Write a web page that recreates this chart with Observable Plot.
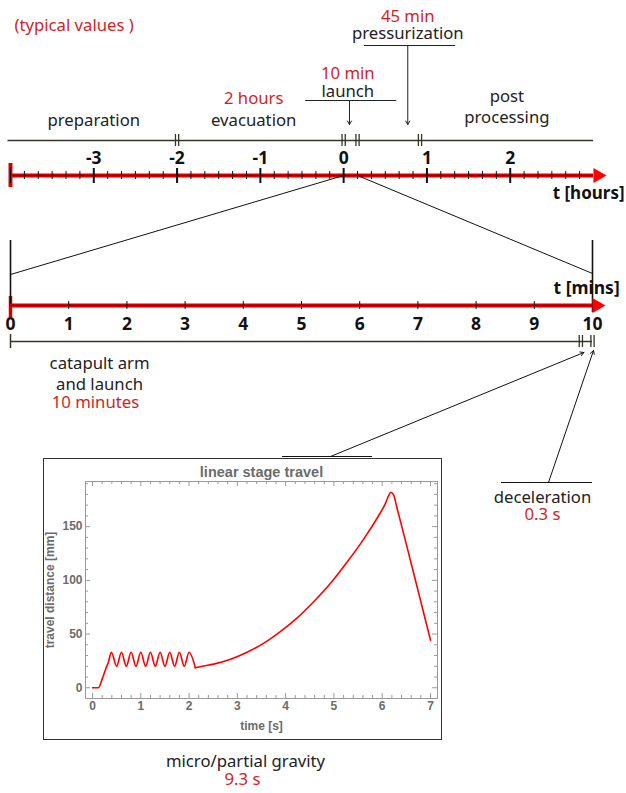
<!DOCTYPE html>
<html><head><meta charset="utf-8">
<script src="https://cdn.jsdelivr.net/npm/d3@7"></script>
<script src="https://cdn.jsdelivr.net/npm/@observablehq/plot@0.6"></script>
<style>
body{margin:0;background:#fff;}
#wrap{position:relative;width:626px;height:793px;overflow:hidden;}
#wrap svg{position:absolute;}
</style></head><body><div id="wrap"></div>
<script>
// ---------- data ----------
const hourTicks = [-3, -2, -1, 0, 1, 2];
const hourPhaseMarks = [-2, 0, 10 / 60, 55 / 60];
const phaseNames = ["preparation", "evacuation", "launch", "pressurization", "post", "processing"];
const phaseX = [-3, -1.08, 0.05, 0.77, 1.96, 1.96];
const phaseRow = [120, 120, 91, 33, 96, 117];
const durNames = ["2 hours", "10 min", "45 min"];
const durX = [-1.08, 0.05, 0.77];
const durRow = [98, 73, 16];
const noteArrowX = [0.07, 0.77];
const noteArrowTop = [100, 45];
const underlineX1 = [-0.456, 0.25];
const underlineX2 = [0.637, 1.345];
const underlineRow = [100, 45];

const minTicks = [0, 1, 2, 3, 4, 5, 6, 7, 8, 9, 10];
const minPhaseMarks = [9.8, 10];
const zoomFromHours = [0, 10 / 60];
const zoomToMins = [0, 10];

// linear stage travel: oscillation phase, then acceleration + deceleration
const oscTime = [0, 0.12, 0.2, 0.27, 0.33, 0.39, 0.5, 0.6, 0.7, 0.8, 0.9, 1.0, 1.1, 1.2, 1.3, 1.4, 1.5, 1.6, 1.7, 1.8, 1.9, 2.0, 2.13];
const oscDist = [0, 0, 8, 17, 24, 33, 20, 33, 20, 33, 20, 33, 20, 33, 20, 33, 20, 33, 20, 33, 20, 33, 18.6];
const accTime = [2.13, 2.3, 2.51, 2.86, 3.2, 3.55, 3.89, 4.24, 4.58, 4.93, 5.27, 5.62, 5.96, 6.06, 6.13, 6.18, 6.23, 6.3, 6.5, 6.75, 7.0];
const accDist = [18.6, 20.3, 22, 26.5, 33, 41.6, 52.3, 65.1, 80.1, 97.3, 116.8, 138.6, 162.7, 171, 178.5, 182, 180, 168.5, 133.5, 89, 44.3];
const insetXTicks = [0, 1, 2, 3, 4, 5, 6, 7];
const insetYTicks = [0, 50, 100, 150];

// ---------- styles ----------
const INK = "#222", RED = "#d11f1f", PHASE = "#34342a", AXRED = "#d40000", HEAD = "#ff0000", BLK = "#111";
const FS = 16.7, FB = 17.5;
const FONT = "background:transparent;overflow:visible;font-family:'Noto Sans',sans-serif;";
const wrap = document.getElementById("wrap");

// ---------- hours timeline ----------
const phases = phaseNames.map((t, i) => ({text: t, x: phaseX[i], y: phaseRow[i]}));
const durs = durNames.map((t, i) => ({text: t, x: durX[i], y: durRow[i]}));
const notes = noteArrowX.map((x, i) => ({x, y1: noteArrowTop[i], y2: 124}));
const unders = underlineRow.map((y, i) => ({y, x1: underlineX1[i], x2: underlineX2[i]}));
const minorHours = d3.range(-24, 18).map(k => k / 6).filter(v => Math.abs(v - Math.round(v)) > 1e-6);

const hoursPlot = Plot.plot({
  width: 626, height: 200, marginLeft: 10, marginRight: 33, marginTop: 0, marginBottom: 0,
  style: FONT,
  x: {domain: [-4, 3], axis: null},
  y: {type: "identity", axis: null},
  marks: [
    Plot.text(["(typical values )"], {frameAnchor: "top-left", dx: 4, dy: 25, textAnchor: "start", lineAnchor: "middle", fill: RED, fontSize: FS}),
    Plot.text(phases, {x: "x", y: "y", text: "text", fill: INK, fontSize: FS}),
    Plot.text(durs, {x: "x", y: "y", text: "text", fill: RED, fontSize: FS}),
    Plot.ruleY(unders, {y: "y", x1: "x1", x2: "x2", stroke: INK, strokeWidth: 1.2}),
    Plot.arrow(notes, {x1: "x", x2: "x", y1: "y1", y2: "y2", stroke: INK, strokeWidth: 1, headLength: 6}),
    Plot.ruleY([140], {x1: -4.03, x2: 3.0, stroke: PHASE, strokeWidth: 1.6}),
    Plot.ruleX(hourPhaseMarks, {x: d => d, y1: 134, y2: 146, dx: -1.6, stroke: PHASE, strokeWidth: 1.3}),
    Plot.ruleX(hourPhaseMarks, {x: d => d, y1: 134, y2: 146, dx: 1.6, stroke: PHASE, strokeWidth: 1.3}),
    Plot.text(hourTicks, {x: d => d, y: 158, text: d => String(d), fontWeight: "bold", fontSize: FB, fill: BLK}),
    Plot.ruleY([175], {x1: -4, x2: 3, stroke: AXRED, strokeWidth: 4}),
    Plot.ruleY([175], {x1: -4, x2: 3, stroke: BLK, strokeWidth: 1}),
    Plot.ruleX(minorHours, {x: d => d, y1: 171, y2: 179, stroke: BLK, strokeWidth: 1}),
    Plot.ruleX(hourTicks, {x: d => d, y1: 168, y2: 183, stroke: BLK, strokeWidth: 2}),
    Plot.ruleX([-4], {x: d => d, y1: 163, y2: 187, stroke: AXRED, strokeWidth: 4}),
    Plot.ruleX([-4], {x: d => d, y1: 167, y2: 183, stroke: BLK, strokeWidth: 1}),
    Plot.dot([3], {x: d => d, y: 175, symbol: "triangle", rotate: 90, r: 5.6, fill: HEAD, stroke: "none", dx: 4.3}),
    Plot.text(["t [hours]"], {x: 2.51, y: 193, textAnchor: "start", fontWeight: "bold", fontSize: 17, fill: BLK})
  ]
});
hoursPlot.style.top = "0px"; hoursPlot.style.left = "0px";

// ---------- minutes timeline ----------
const MINTOP = 230;
const minsPlot = Plot.plot({
  width: 626, height: 200, marginLeft: 10, marginRight: 34, marginTop: 0, marginBottom: 0,
  style: FONT,
  x: {domain: [0, 10], axis: null},
  y: {type: "identity", axis: null},
  marks: [
    Plot.ruleX([0], {x: d => d, y1: 66, y2: 87, stroke: AXRED, strokeWidth: 3.5}),
    Plot.ruleX([0], {x: d => d, y1: 10, y2: 76, stroke: BLK, strokeWidth: 1.6}),
    Plot.ruleX([10], {x: d => d, y1: 10, y2: 82, stroke: BLK, strokeWidth: 1.6}),
    Plot.ruleY([75], {x1: 0, x2: 10, stroke: AXRED, strokeWidth: 4}),
    Plot.ruleY([75], {x1: 0, x2: 10, stroke: BLK, strokeWidth: 1}),
    Plot.ruleX(minTicks.slice(1, -1), {x: d => d, y1: 71, y2: 79, stroke: BLK, strokeWidth: 1}),
    Plot.dot([10], {x: d => d, y: 75, symbol: "triangle", rotate: 90, r: 5.6, fill: HEAD, stroke: "none", dx: 4.3}),
    Plot.text(["t [mins]"], {x: 9.33, y: 58, textAnchor: "start", fontWeight: "bold", fontSize: FB, fill: BLK}),
    Plot.text(minTicks, {x: d => d, y: 94, text: d => String(d), fontWeight: "bold", fontSize: FB, fill: BLK}),
    Plot.ruleY([111], {x1: 0, x2: 10, stroke: PHASE, strokeWidth: 1.6}),
    Plot.ruleX([0], {x: d => d, y1: 104, y2: 118, stroke: PHASE, strokeWidth: 1.5}),
    Plot.ruleX(minPhaseMarks, {x: d => d, y1: 105, y2: 117, dx: -1.6, stroke: PHASE, strokeWidth: 1.3}),
    Plot.ruleX(minPhaseMarks, {x: d => d, y1: 105, y2: 117, dx: 1.6, stroke: PHASE, strokeWidth: 1.3}),
    Plot.text(["catapult arm", "and launch"], {x: 1.53, y: (d, i) => 133 + 21 * i, fill: INK, fontSize: FS}),
    Plot.text(["10 minutes"], {x: 1.46, y: 172, fill: RED, fontSize: FS})
  ]
});
minsPlot.style.top = MINTOP + "px"; minsPlot.style.left = "0px";

// ---------- inset chart ----------
const IW = 399, IH = 282, IL = 42, IR = 5, IT = 23, IB = 42;
const FW = IW - IL - IR, FH = IH - IT - IB;
const GRAY = "#6b6b6b", TICK = "#999";
const minorX = d3.range(0, 36).map(k => k / 5).filter(v => Math.abs(v - Math.round(v)) > 1e-6);
const minorY = d3.range(0, 20).map(k => k * 10).filter(v => v % 50 !== 0);
const osc = oscTime.map((t, i) => ({t, d: oscDist[i]}));
const acc = accTime.map((t, i) => ({t, d: accDist[i]}));
const lab = {fontWeight: "bold", fill: GRAY, lineAnchor: "middle", textAnchor: "middle"};
const insetPlot = Plot.plot({
  width: IW, height: IH, marginLeft: IL, marginRight: IR, marginTop: IT, marginBottom: IB,
  style: "background:#fff;overflow:visible;outline:1.5px solid #333;outline-offset:-1.5px;font-family:'Liberation Sans',Arial,sans-serif;",
  x: {domain: [-0.145, 7.145]},
  y: {domain: [-10, 192]},
  marks: [
    Plot.frame({stroke: TICK}),
    Plot.ruleX(insetXTicks, {x: d => d, insetTop: FH - 5, stroke: TICK}),
    Plot.ruleX(insetXTicks, {x: d => d, insetBottom: FH - 5, stroke: TICK}),
    Plot.ruleX(minorX, {x: d => d, insetTop: FH - 3, stroke: TICK}),
    Plot.ruleX(minorX, {x: d => d, insetBottom: FH - 3, stroke: TICK}),
    Plot.ruleY(insetYTicks, {y: d => d, insetRight: FW - 5, stroke: TICK}),
    Plot.ruleY(insetYTicks, {y: d => d, insetLeft: FW - 5, stroke: TICK}),
    Plot.ruleY(minorY, {y: d => d, insetRight: FW - 3, stroke: TICK}),
    Plot.ruleY(minorY, {y: d => d, insetLeft: FW - 3, stroke: TICK}),
    Plot.axisX({ticks: insetXTicks, tickSize: 0, tickPadding: 3, label: null, fontWeight: "bold", fontSize: 12, fill: GRAY}),
    Plot.axisY({ticks: insetYTicks, tickSize: 0, tickPadding: 3, label: null, fontWeight: "bold", fontSize: 12, fill: GRAY}),
    Plot.line(osc, {x: "t", y: "d", stroke: "#ff0000", strokeWidth: 1.6, curve: "monotone-x"}),
    Plot.line(acc, {x: "t", y: "d", stroke: "#ff0000", strokeWidth: 1.6, curve: "catmull-rom"}),
    Plot.text(["linear stage travel"], {frameAnchor: "top", dy: -9, fontSize: 14.5, ...lab}),
    Plot.text(["time [s]"], {frameAnchor: "bottom", dy: 28, fontSize: 12, ...lab}),
    Plot.text(["travel distance [mm]"], {frameAnchor: "left", dx: -35, rotate: -90, fontSize: 12, ...lab})
  ]
});
insetPlot.style.top = "458px"; insetPlot.style.left = "43px";

// ---------- connectors overlay ----------
const hx = v => hoursPlot.scale("x").apply(v);
const mx = v => minsPlot.scale("x").apply(v);
const zoomLinks = zoomFromHours.map((h, i) => ({x1: hx(h), y1: 175, x2: mx(zoomToMins[i]), y2: MINTOP + 44 - i}));
const pointers = [
  {x1: 330, y1: 456, x2: mx(minPhaseMarks[0]) + 3, y2: MINTOP + 122},
  {x1: 548, y1: 482, x2: mx(minPhaseMarks[1]) + 1, y2: MINTOP + 120}
];
const overlay = Plot.plot({
  width: 626, height: 793, margin: 0,
  style: FONT,
  x: {type: "identity", axis: null},
  y: {type: "identity", axis: null},
  marks: [
    Plot.link(zoomLinks, {x1: "x1", y1: "y1", x2: "x2", y2: "y2", stroke: BLK, strokeWidth: 1}),
    Plot.ruleY([456], {x1: 282, x2: 372, stroke: BLK, strokeWidth: 1.2}),
    Plot.ruleY([482], {x1: 501, x2: 592, stroke: BLK, strokeWidth: 1.2}),
    Plot.arrow(pointers, {x1: "x1", y1: "y1", x2: "x2", y2: "y2", stroke: BLK, strokeWidth: 1, headLength: 6}),
    Plot.text(["deceleration"], {x: 542, y: 497, fill: INK, fontSize: FS}),
    Plot.text(["0.3 s"], {x: 542, y: 514, fill: RED, fontSize: FS}),
    Plot.text(["micro/partial gravity"], {x: 245, y: 761, fill: INK, fontSize: FS}),
    Plot.text(["9.3 s"], {x: 242, y: 779, fill: RED, fontSize: FS})
  ]
});
overlay.style.top = "0px"; overlay.style.left = "0px"; overlay.style.pointerEvents = "none";

wrap.append(hoursPlot, minsPlot, insetPlot, overlay);
</script></body></html>
